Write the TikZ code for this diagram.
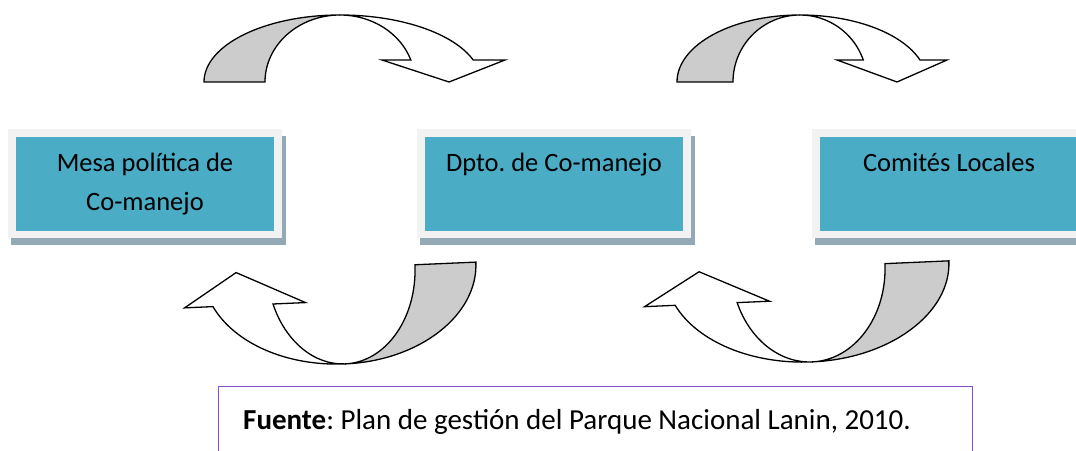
\documentclass[tikz,border=0pt]{standalone}
\usepackage{fontspec}
\setmainfont{Carlito}
\frenchspacing
\definecolor{tealbox}{HTML}{4BACC6}
\definecolor{framebox}{HTML}{F2F2F2}
\definecolor{shadowbox}{HTML}{93A9B5}
\definecolor{purp}{RGB}{136,80,200}
\definecolor{arrowgray}{HTML}{CCCCCC}
\tikzset{
  arrowband/.style={draw=black, line width=1.3pt, line join=miter},
  shadowrect/.style={fill=shadowbox, draw=none},
  framerect/.style={fill=framebox, draw=none},
  tealrect/.style={fill=tealbox, draw=none, inner sep=0pt, outer sep=0pt, minimum width=258pt, minimum height=94pt},
  boxtext/.style={font=\fontsize{26.5}{39}\selectfont\frenchspacing, align=center, inner sep=0pt, text=black},
  srcbox/.style={draw=purp, line width=1.3pt, fill=white, anchor=north west, minimum width=754pt, minimum height=90pt, inner sep=0pt},
  srctext/.style={font=\fontsize{29}{35}\selectfont\frenchspacing, inner sep=0pt, anchor=base west}
}
% #1 ry, #2 ri, #3 rol, #4 ror, #5 b, #6 hx1, #7 hx2, #8 tipx
\newcommand\bentarrow[8]{%
  \pgfmathsetmacro\bth{asin(#5/#1)}%
  \pgfmathsetmacro\bxo{#4*cos(\bth)}%
  \pgfmathsetmacro\bxi{#2*cos(\bth)}%
  \path[arrowband, fill=arrowgray] (-#3,0) arc[start angle=180, end angle=90, x radius=#3, y radius=#1]
     arc[start angle=90, end angle=180, x radius=#2, y radius=#1] -- cycle;
  \path[arrowband, fill=white] (0,#1) arc[start angle=90, end angle=\bth, x radius=#4, y radius=#1]
     -- (#7,#5) -- (#8,0) -- (#6,#5) -- (\bxi,#5)
     arc[start angle=\bth, end angle=90, x radius=#2, y radius=#1] -- cycle;
}
\begin{document}
\begin{tikzpicture}[x=1pt, y=1pt]
\clip (0,0) rectangle (1076,450);
\fill[white] (0,0) rectangle (1076,450);

% boxes: shadow, frame, teal
\foreach \cx in {145,554,949}{
  \fill[shadowrect] (\cx-134,205) rectangle (\cx+141,314);
  \fill[framerect] (\cx-137,212) rectangle (\cx+137,321);
}
\node[tealrect] (b1) at (145,266) {};
\node[tealrect] (b2) at (554,266) {};
\node[tealrect] (b3) at (949,266) {};
\node[boxtext, anchor=base] (t1) at (145,239) {Mesa política de\\Co-manejo};
\node[boxtext, anchor=base] (t2) at (554,278) {Dpto.\ de Co-manejo};
\node[boxtext, anchor=base] (t3) at (949,278) {Comités Locales};

% curved arrows
\begin{scope}[shift={(340,368)}]
  \bentarrow{67}{75}{136}{141}{22}{42}{165}{109}
\end{scope}
\begin{scope}[shift={(800,368)}]
  \bentarrow{67}{67}{123}{127}{22}{37}{147}{97}
\end{scope}
\begin{scope}[shift={(341,182)}, rotate=182.5]
  \bentarrow{96}{74}{135}{138}{33}{37}{158}{105}
\end{scope}
\begin{scope}[shift={(808,183)}, rotate=182.5]
  \bentarrow{95}{77}{141}{143}{32.5}{40}{165}{109}
\end{scope}

% source box
\node[srcbox] (src) at (218,64) {};
\node[srctext] (srct) at (243,21) {\textbf{Fuente}: Plan de gestión del Parque Nacional Lanin, 2010.};
\end{tikzpicture}
\end{document}
